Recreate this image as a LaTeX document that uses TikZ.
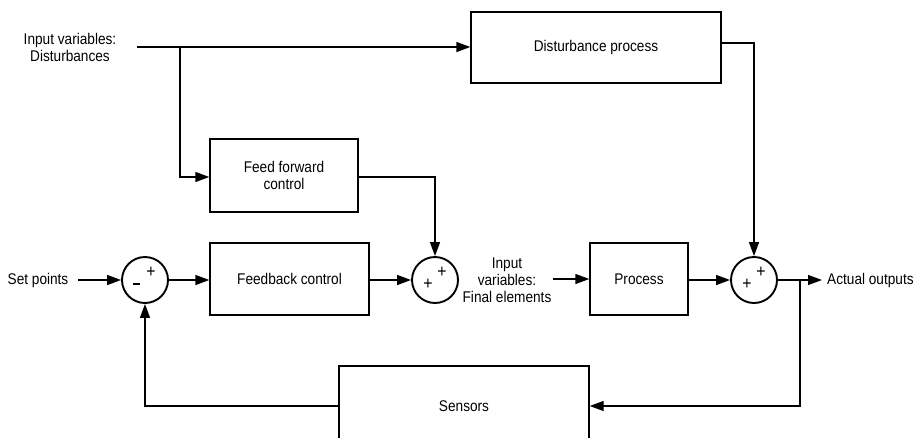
\documentclass[tikz,border=0pt]{standalone}
\usepackage{fontspec}
\setmainfont{Liberation Sans}[FakeStretch=0.88]
\usetikzlibrary{arrows.meta}
\begin{document}
\begin{tikzpicture}[x=1pt,y=-1pt,
  every node/.style={font=\fontsize{15.5}{17}\selectfont},
  blk/.style={draw,line width=1.4pt,rectangle,inner sep=0pt,align=center},
  sumc/.style={draw,line width=1.9pt,circle,minimum size=46pt,inner sep=0pt},
  lbl/.style={align=center,inner sep=1pt},
  wire/.style={line width=1.4pt},
  arr/.style={line width=1.4pt,-{Triangle[length=14pt,width=10pt]}},
  sgn/.style={inner sep=0pt,font=\fontsize{18}{18}\selectfont}]
\useasboundingbox (0,0) rectangle (916,437);
% nodes
\node[lbl] (din) at (70,47) {Input variables:\\Disturbances};
\coordinate (dstart) at (137,47);
\coordinate (branch) at (180,47);
\node[blk,minimum width=250pt,minimum height=71pt] (dp) at (596,47.5) {Disturbance process};
\node[blk,minimum width=148pt,minimum height=73pt] (ff) at (284,175.5) {Feed forward\\control};
\node[blk,minimum width=159pt,minimum height=72pt] (fb) at (289.5,279) {Feedback control};
\node[blk,minimum width=98pt,minimum height=72pt] (proc) at (639,279) {Process};
\node[blk,minimum width=250pt,minimum height=80pt] (sens) at (464,406) {Sensors};
\node[sumc] (s1) at (145,280) {};
\node[sumc] (s2) at (435,280) {};
\node[sumc] (s3) at (754,280) {};
\node[sgn] (s1p) at (151,272) {+};
\node[sgn] (s1m) at (136,284) {\rule{7pt}{2pt}};
\node[sgn] (s2p) at (442,272) {+};
\node[sgn] (s2q) at (428,284) {+};
\node[sgn] (s3p) at (761,272) {+};
\node[sgn] (s3q) at (747,284) {+};
\node[lbl] (sp) at (38,280) {Set points};
\coordinate (spstart) at (78,280);
\node[lbl] (fe) at (507,280) {Input\\variables:\\Final elements};
\node[lbl,anchor=west] (ao) at (826,280) {Actual outputs};
\coordinate (aoend) at (822,280);
\coordinate (fbk) at (800,280);
% connectors
\draw[arr] (dstart) -- (dp.west |- dstart);
\draw[arr] (branch) |- (ff.west |- 0,177);
\draw[arr] (ff.east |- 0,177) -| (s2.north);
\draw[arr] (dp.east |- 0,43) -| (s3.north);
\draw[arr] (spstart) -- (s1.west);
\draw[arr] (s1.east) -- (fb.west |- s1.east);
\draw[arr] (fb.east |- s2.west) -- (s2.west);
\draw[arr] (fe.east |- proc.west) -- (proc.west);
\draw[arr] (proc.east |- s3.west) -- (s3.west);
\draw[arr] (s3.east) -- (aoend);
\draw[arr] (fbk) |- (sens.east);
\draw[arr] (sens.west) -| (s1.south);
\end{tikzpicture}
\end{document}
